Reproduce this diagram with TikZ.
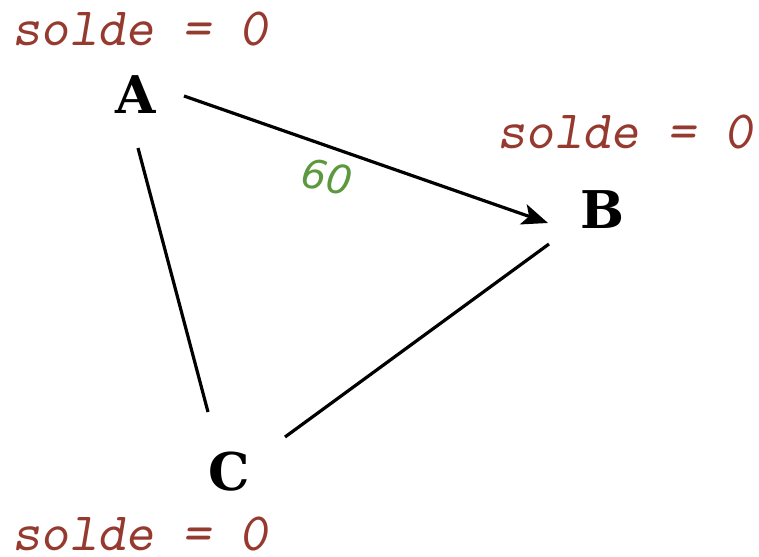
\documentclass[tikz,border=0pt]{standalone}
\usepackage{fontspec}
\newfontfamily\greenfont{DejaVu Sans}
\newfontfamily\vertexfont{DejaVu Serif}
\usetikzlibrary{arrows.meta}
\definecolor{soldered}{RGB}{150,58,48}
\definecolor{amtgreen}{RGB}{92,152,62}
\tikzset{
  vertex/.style={font=\fontsize{52}{52}\selectfont\vertexfont\bfseries, inner sep=0pt},
  balance/.style={font=\fontsize{54}{54}\selectfont\ttfamily\slshape, text=soldered, inner sep=0pt},
  edge/.style={line width=3.2pt},
  amount/.style={font=\fontsize{40}{40}\selectfont\greenfont\itshape, text=amtgreen, inner sep=0pt}
}
\begin{document}
\begin{tikzpicture}[x=1pt,y=-1pt]
\useasboundingbox (0,0) rectangle (759,556);
\node[vertex] (A) at (136,95) {A};
\node[vertex] (B) at (602,210) {B};
\node[vertex] (C) at (229,472) {C};
\node[balance] (sA) at (140,29) {solde = 0};
\node[balance] (sB) at (625,132) {solde = 0};
\node[balance] (sC) at (140,534) {solde = 0};
\draw[edge,-{Stealth[length=26pt,width=21pt,inset=6pt]}] ([xshift=48pt,yshift=-1pt]A.center) -- ([xshift=-54pt,yshift=-13pt]B.center);
\node[amount,rotate=-10] (amt) at (327,177) {60};
\draw[edge] ([xshift=2pt,yshift=-53pt]A.center) -- ([xshift=-21pt,yshift=60pt]C.center);
\draw[edge] ([xshift=56pt,yshift=35pt]C.center) -- ([xshift=-53pt,yshift=-34pt]B.center);
\end{tikzpicture}
\end{document}
